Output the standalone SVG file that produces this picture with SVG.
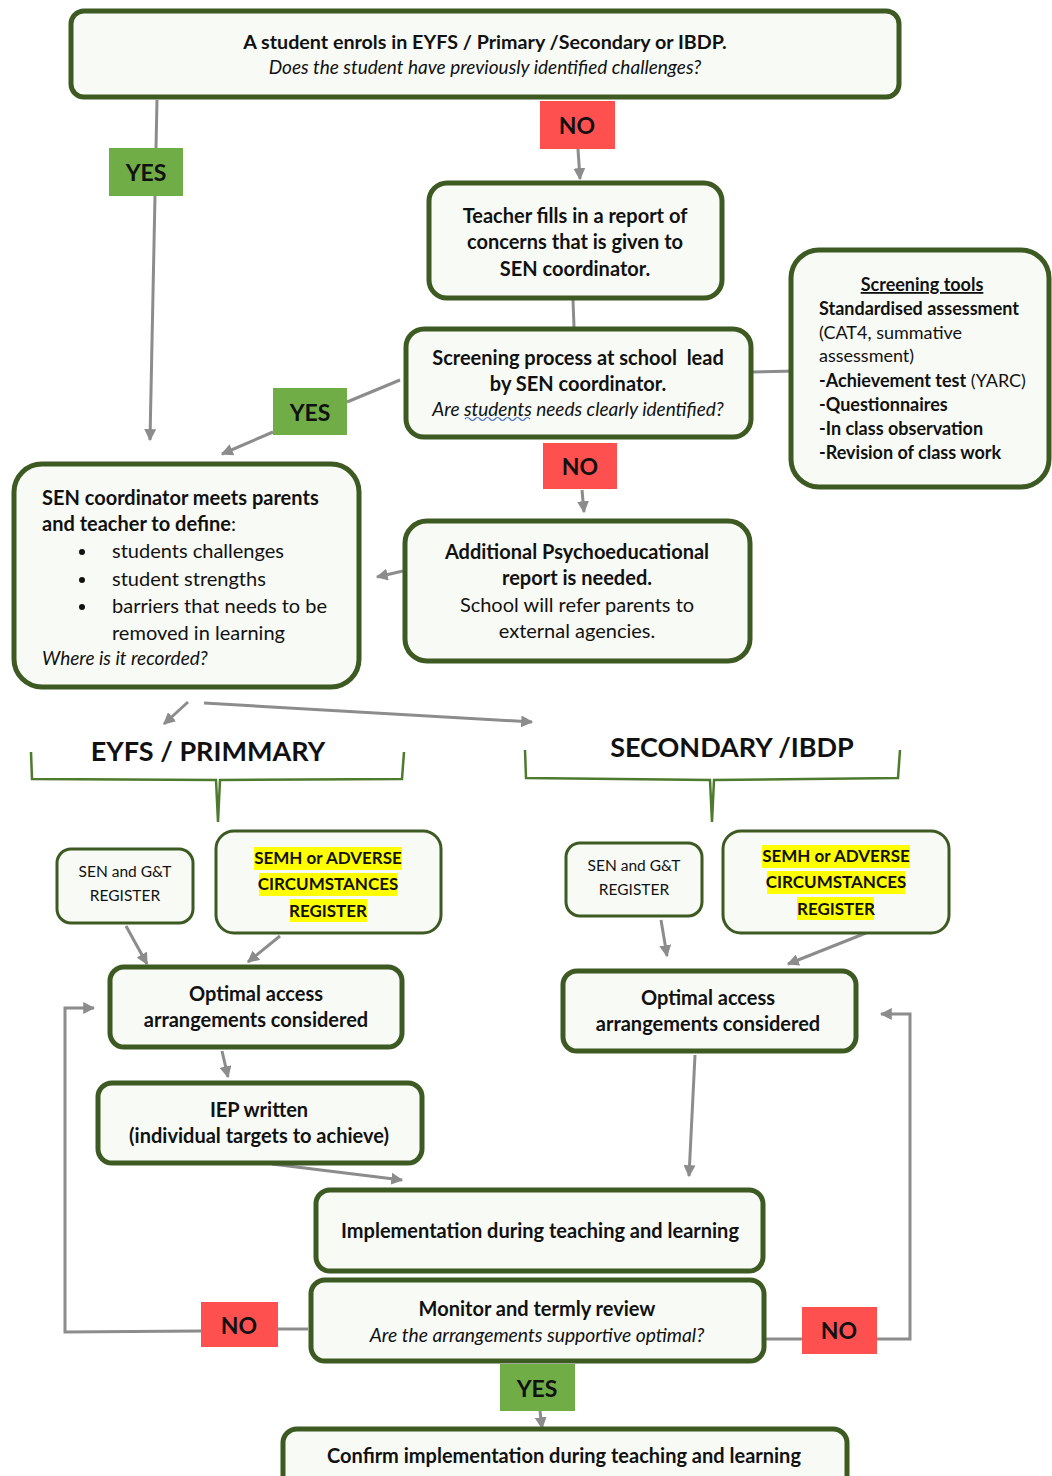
<svg xmlns="http://www.w3.org/2000/svg" width="1052" height="1476" viewBox="0 0 1052 1476">
<defs>
<style>
.box{fill:#f8faf5;stroke:#3d5a23;stroke-width:5}
.sbox{fill:#f8faf5;stroke:#3d5a23;stroke-width:3}
.t{font-family:Lato,"Liberation Sans",sans-serif;fill:#111;font-size:20px}
.b{font-weight:bold}
.i{font-style:italic}
.c{text-anchor:middle}
.yes{fill:#70ad47}
.no{fill:#ff5050}
.lbl{font-family:Lato,"Liberation Sans",sans-serif;font-weight:bold;font-size:23px;fill:#111;text-anchor:middle}
.con{fill:none;stroke:#8c8c8c;stroke-width:3}
.brace{fill:none;stroke:#4e7a2e;stroke-width:2.5}
.hl{fill:#ffff00}
</style>
<marker id="ah" viewBox="0 0 10 10" refX="9" refY="5" markerWidth="4" markerHeight="4" orient="auto">
<path d="M0,0 L10,5 L0,10 z" fill="#8c8c8c"/>
</marker>
</defs>
<rect width="1052" height="1476" fill="#ffffff"/>

<g id="connectors">
<path class="con" d="M157,100 L156,148"/>
<path class="con" d="M155,196 L150,440" marker-end="url(#ah)"/>
<path class="con" d="M578,149 L580,179" marker-end="url(#ah)"/>
<path class="con" d="M573,300 L574,327"/>
<path class="con" d="M752,372 L797,371"/>
<path class="con" d="M400,380 L347,402"/>
<path class="con" d="M273,432 L222,454" marker-end="url(#ah)"/>
<path class="con" d="M582,490 L584,512" marker-end="url(#ah)"/>
<path class="con" d="M403,571 L377,577" marker-end="url(#ah)"/>
<path class="con" d="M188,702 L164,724" marker-end="url(#ah)"/>
<path class="con" d="M204,703 L532,722" marker-end="url(#ah)"/>
<path class="con" d="M126,926 L147,964" marker-end="url(#ah)"/>
<path class="con" d="M280,936 L248,962" marker-end="url(#ah)"/>
<path class="con" d="M222,1051 L228,1077" marker-end="url(#ah)"/>
<path class="con" d="M272,1164 L402,1180" marker-end="url(#ah)"/>
<path class="con" d="M661,920 L667,956" marker-end="url(#ah)"/>
<path class="con" d="M866,933 L788,964" marker-end="url(#ah)"/>
<path class="con" d="M695,1055 L689,1176" marker-end="url(#ah)"/>
<path class="con" d="M308,1329 L278,1329"/>
<path class="con" d="M201,1331 L65,1332 L65,1008 L94,1008" marker-end="url(#ah)"/>
<path class="con" d="M766,1339 L802,1339"/>
<path class="con" d="M877,1339 L910,1339 L910,1014 L881,1014" marker-end="url(#ah)"/>
<path class="con" d="M540,1411 L542,1428" marker-end="url(#ah)"/>
</g>

<g id="n-start">
<rect class="box" x="71" y="11" width="828" height="86" rx="13"/>
<text class="t b c" x="485" y="49" style="font-size:19.7px">A student enrols in EYFS / Primary /Secondary or IBDP.</text>
<text class="t i c" x="485" y="74" style="font-size:19px">Does the student have previously identified challenges?</text>
</g>

<g id="l-yes1"><rect class="yes" x="109" y="148" width="74" height="48"/><text class="lbl" x="146" y="181">YES</text></g>
<g id="l-no1"><rect class="no" x="540" y="101" width="75" height="48"/><text class="lbl" x="577" y="134">NO</text></g>

<g id="n-teacher">
<rect class="box" x="429" y="183" width="293" height="115" rx="18"/>
<text class="t b c" x="575" y="223">Teacher fills in a report of</text>
<text class="t b c" x="575" y="249">concerns that is given to</text>
<text class="t b c" x="575" y="276">SEN coordinator.</text>
</g>

<g id="n-screening">
<rect class="box" x="406" y="329" width="345" height="108" rx="18"/>
<text class="t b c" x="578" y="365" xml:space="preserve">Screening process at school  lead</text>
<text class="t b c" x="578" y="391">by SEN coordinator.</text>
<text class="t i c" x="578" y="416" style="font-size:19px">Are students needs clearly identified?</text>
<path d="M465,419 q2.5,-3 5,0 t5,0 t5,0 t5,0 t5,0 t5,0 t5,0 t5,0 t5,0 t5,0 t5,0 t5,0 t5,0" fill="none" stroke="#4472c4" stroke-width="1.2"/>
</g>

<g id="n-tools">
<rect class="box" x="791" y="250" width="258" height="237" rx="28"/>
<text class="t b c" x="922" y="291" style="font-size:18px" text-decoration="underline">Screening tools</text>
<text class="t b" x="819" y="315" style="font-size:18px">Standardised assessment</text>
<text class="t" x="819" y="339" style="font-size:18px">(CAT4, summative</text>
<text class="t" x="819" y="362" style="font-size:18px">assessment)</text>
<text class="t" x="819" y="387" style="font-size:18px"><tspan class="b">-Achievement test</tspan> (YARC)</text>
<text class="t b" x="819" y="411" style="font-size:18px">-Questionnaires</text>
<text class="t b" x="819" y="435" style="font-size:18px">-In class observation</text>
<text class="t b" x="819" y="459" style="font-size:18px">-Revision of class work</text>
</g>

<g id="l-yes2"><rect class="yes" x="273" y="388" width="74" height="47"/><text class="lbl" x="310" y="421">YES</text></g>

<g id="n-sen">
<rect class="box" x="14" y="464" width="345" height="223" rx="28"/>
<text class="t b" x="42" y="505">SEN coordinator meets parents</text>
<text class="t" x="42" y="531"><tspan class="b">and teacher to define</tspan>:</text>
<circle cx="82" cy="552" r="3" fill="#111"/>
<circle cx="82" cy="580" r="3" fill="#111"/>
<circle cx="82" cy="607" r="3" fill="#111"/>
<text class="t" x="112" y="558">students challenges</text>
<text class="t" x="112" y="586">student strengths</text>
<text class="t" x="112" y="613">barriers that needs to be</text>
<text class="t" x="112" y="640">removed in learning</text>
<text class="t i" x="42" y="665" style="font-size:19px">Where is it recorded?</text>
</g>

<g id="l-no2"><rect class="no" x="543" y="443" width="74" height="46"/><text class="lbl" x="580" y="475">NO</text></g>

<g id="n-additional">
<rect class="box" x="405" y="521" width="345" height="140" rx="22"/>
<text class="t b c" x="577" y="559">Additional Psychoeducational</text>
<text class="t b c" x="577" y="585">report is needed.</text>
<text class="t c" x="577" y="612">School will refer parents to</text>
<text class="t c" x="577" y="638">external agencies.</text>
</g>

<g id="n-eyfs">
<text class="t b c" x="208" y="761" style="font-size:27px">EYFS / PRIMMARY</text>
<path class="brace" d="M31,752 L32,779 L216,780 L218,822 M218,822 L220,780 L402,779 L404,752"/>
</g>

<g id="n-secondary">
<text class="t b c" x="732" y="757" style="font-size:27px">SECONDARY /IBDP</text>
<path class="brace" d="M525,750 L526,778 L710,780 L712,822 M712,822 L714,780 L898,778 L900,750"/>
</g>

<g id="n-reg-l1">
<rect class="sbox" x="57" y="849" width="136" height="74" rx="14"/>
<text class="t c" x="125" y="877" style="font-size:15.5px">SEN and G&amp;T</text>
<text class="t c" x="125" y="901" style="font-size:15.5px">REGISTER</text>
</g>
<g id="n-reg-l2">
<rect class="sbox" x="216" y="831" width="225" height="102" rx="18"/>
<rect class="hl" x="254" y="847" width="148" height="23"/>
<rect class="hl" x="259" y="873" width="138" height="23"/>
<rect class="hl" x="290" y="899" width="77" height="23"/>
<text class="t b c" x="328" y="864" style="font-size:17px">SEMH or ADVERSE</text>
<text class="t b c" x="328" y="890" style="font-size:17px">CIRCUMSTANCES</text>
<text class="t b c" x="328" y="917" style="font-size:17px">REGISTER</text>
</g>

<g id="n-opt-l">
<rect class="box" x="110" y="967" width="292" height="80" rx="14"/>
<text class="t b c" x="256" y="1001">Optimal access</text>
<text class="t b c" x="256" y="1027">arrangements considered</text>
</g>

<g id="n-iep">
<rect class="box" x="98" y="1083" width="324" height="80" rx="14"/>
<text class="t b c" x="259" y="1117">IEP written</text>
<text class="t b c" x="259" y="1143">(individual targets to achieve)</text>
</g>

<g id="n-reg-r1">
<rect class="sbox" x="566" y="843" width="136" height="73" rx="14"/>
<text class="t c" x="634" y="871" style="font-size:15.5px">SEN and G&amp;T</text>
<text class="t c" x="634" y="895" style="font-size:15.5px">REGISTER</text>
</g>
<g id="n-reg-r2">
<rect class="sbox" x="723" y="831" width="226" height="102" rx="18"/>
<rect class="hl" x="762" y="845" width="148" height="23"/>
<rect class="hl" x="767" y="871" width="138" height="23"/>
<rect class="hl" x="797" y="897" width="77" height="23"/>
<text class="t b c" x="836" y="862" style="font-size:17px">SEMH or ADVERSE</text>
<text class="t b c" x="836" y="888" style="font-size:17px">CIRCUMSTANCES</text>
<text class="t b c" x="836" y="915" style="font-size:17px">REGISTER</text>
</g>

<g id="n-opt-r">
<rect class="box" x="563" y="971" width="293" height="80" rx="14"/>
<text class="t b c" x="708" y="1005">Optimal access</text>
<text class="t b c" x="708" y="1031">arrangements considered</text>
</g>

<g id="n-impl">
<rect class="box" x="316" y="1190" width="447" height="81" rx="14"/>
<text class="t b c" x="540" y="1238">Implementation during teaching and learning</text>
</g>

<g id="n-monitor">
<rect class="box" x="311" y="1280" width="453" height="81" rx="14"/>
<text class="t b c" x="537" y="1316">Monitor and termly review</text>
<text class="t i c" x="537" y="1342" style="font-size:19.3px">Are the arrangements supportive optimal?</text>
</g>

<g id="l-no3"><rect class="no" x="201" y="1302" width="77" height="45"/><text class="lbl" x="239" y="1334">NO</text></g>
<g id="l-no4"><rect class="no" x="802" y="1307" width="75" height="47"/><text class="lbl" x="839" y="1339">NO</text></g>
<g id="l-yes3"><rect class="yes" x="500" y="1364" width="75" height="47"/><text class="lbl" x="537" y="1397">YES</text></g>

<g id="n-confirm">
<rect class="box" x="283" y="1429" width="564" height="60" rx="14"/>
<text class="t b c" x="564" y="1463">Confirm implementation during teaching and learning</text>
</g>
</svg>
